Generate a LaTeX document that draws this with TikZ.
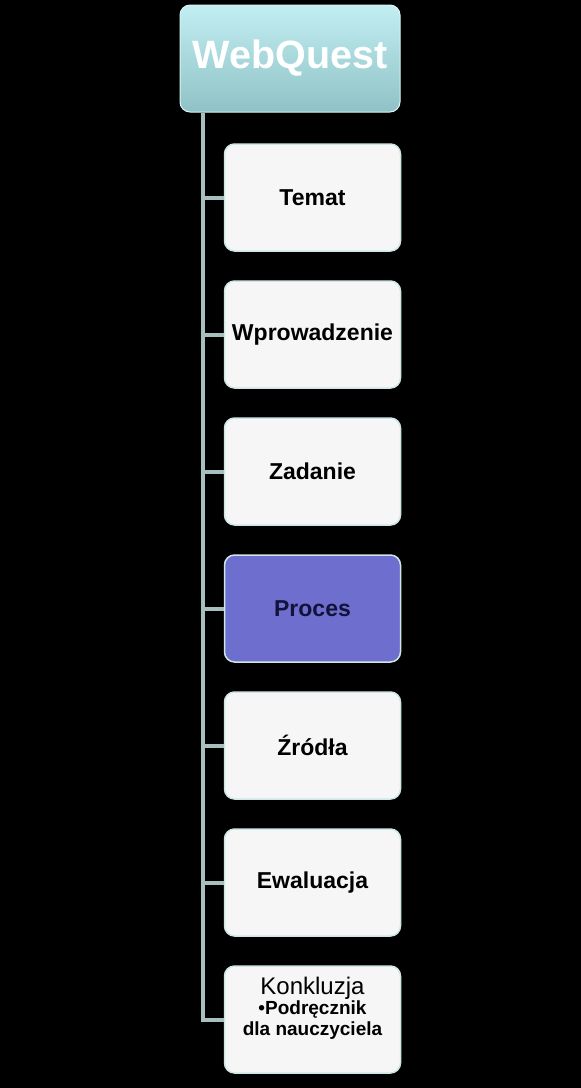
\documentclass[tikz,border=0pt]{standalone}
\usepackage{fontspec}
\setmainfont{Liberation Sans}
\usetikzlibrary{positioning}

\definecolor{spinecol}{HTML}{A7BFBD}
\definecolor{rimcol}{HTML}{CFE6E6}
\definecolor{cardcol}{HTML}{F6F6F6}
\definecolor{procol}{HTML}{6E6ECF}
\definecolor{protext}{HTML}{12123A}
\definecolor{topcol}{HTML}{C2EEF2}
\definecolor{botcol}{HTML}{8FC2C6}

\begin{document}
\begin{tikzpicture}
[x=1pt,y=1pt,%
  every node/.style={shape=rectangle,rounded corners=10pt,align=center,font=\bfseries},
  card/.style={draw=rimcol,line width=1.5pt,fill=cardcol,minimum width=176pt,minimum height=107pt,font=\fontsize{23}{24}\bfseries},
  branch/.style={draw=spinecol,line width=4pt}]
\fill[black] (0,0) rectangle (581,-1088);
\useasboundingbox (0,0) rectangle (581,-1088);
\node[top color=topcol,bottom color=botcol,draw=topcol!60!white,line width=1pt,
  minimum width=220pt,minimum height=107pt,text=white,font=\fontsize{39.5}{42}\bfseries]
  (root) at (290,-58.5) {WebQuest};
\coordinate (spine) at (203,0);
\node[card] (temat) at (312.5,-197.5) {Temat};
\node[card,below=28.5pt of temat] (wprow) {Wprowadzenie};
\node[card,below=28.5pt of wprow] (zadanie) {Zadanie};
\node[card,below=28.5pt of zadanie,fill=procol,text=protext] (proces) {Proces};
\node[card,below=28.5pt of proces] (zrodla) {Źródła};
\node[card,below=28.5pt of zrodla] (ewal) {Ewaluacja};
\node[card,below=28.5pt of ewal,text height=88pt,text depth=0pt] (konkl) {};
\node[font=\fontsize{24}{25}\mdseries,anchor=base] (konkt) at ([yshift=-29pt]konkl.north) {Konkluzja};
\node[font=\fontsize{19}{21}\bfseries,anchor=north,inner sep=0pt] (konks)
  at ([yshift=-6pt]konkt.base) {\textbullet Podręcznik\\dla nauczyciela};
% connectors
\foreach \n in {temat,wprow,zadanie,proces,zrodla,ewal,konkl}
  \draw[branch] (root.south -| spine) |- (\n.west);
\end{tikzpicture}
\end{document}
